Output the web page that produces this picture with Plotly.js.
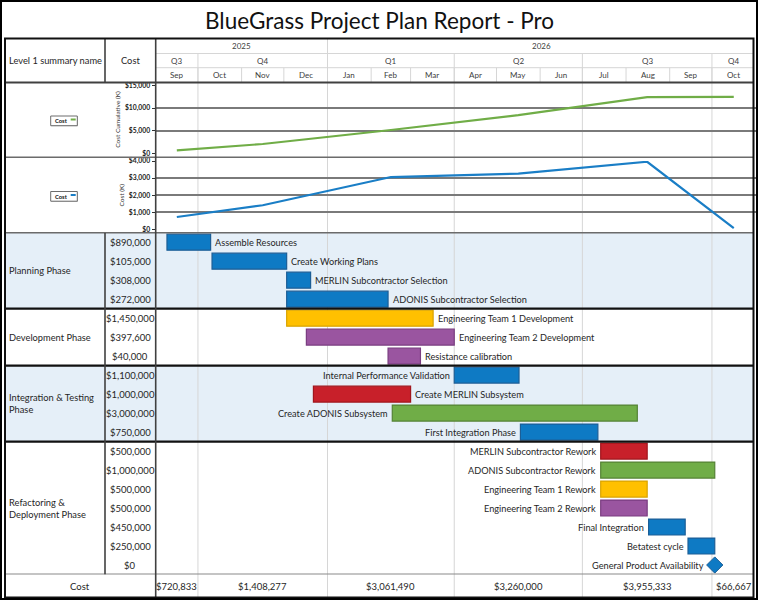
<!DOCTYPE html>
<html>
<head>
<meta charset="utf-8">
<script src="https://cdn.plot.ly/plotly-3.0.1.min.js"></script>
<style>html,body{margin:0;padding:0;background:#fff}</style>
</head>
<body>
<div id="chart" style="width:758px;height:600px"></div>
<script>
// ---------- project data ----------
const reportTitle = 'BlueGrass Project Plan Report - Pro';

const phaseNames = ['Planning Phase', 'Development Phase', 'Integration & Testing<br>Phase', 'Refactoring &<br>Deployment Phase'];
const phaseTaskCounts = [4, 3, 4, 7];

const taskNames = [
  'Assemble Resources', 'Create Working Plans', 'MERLIN Subcontractor Selection', 'ADONIS Subcontractor Selection',
  'Engineering Team 1 Development', 'Engineering Team 2 Development', 'Resistance calibration',
  'Internal Performance Validation', 'Create MERLIN Subsystem', 'Create ADONIS Subsystem', 'First Integration Phase',
  'MERLIN Subcontractor Rework', 'ADONIS Subcontractor Rework', 'Engineering Team 1 Rework', 'Engineering Team 2 Rework',
  'Final Integration', 'Betatest cycle', 'General Product Availability'
];
const taskCosts = [890000, 105000, 308000, 272000, 1450000, 397600, 40000, 1100000, 1000000, 3000000, 750000,
  500000, 1000000, 500000, 500000, 450000, 250000, 0];
const taskStart = ['2025-09-09', '2025-10-11', '2025-12-03', '2025-12-03', '2025-12-03', '2025-12-17', '2026-02-13',
  '2026-04-01', '2025-12-22', '2026-02-16', '2026-05-18', '2026-07-14', '2026-07-14', '2026-07-14', '2026-07-14',
  '2026-08-17', '2026-09-14', '2026-10-03'];
const taskFinish = ['2025-10-10', '2025-12-03', '2025-12-20', '2026-02-13', '2026-03-17', '2026-04-01', '2026-03-08',
  '2026-05-17', '2026-03-01', '2026-08-09', '2026-07-12', '2026-08-16', '2026-10-03', '2026-08-16', '2026-08-16',
  '2026-09-12', '2026-10-03', '2026-10-03'];
const taskTeam = ['Core', 'Core', 'Core', 'Core', 'Team 1', 'Team 2', 'Team 2', 'Core', 'MERLIN', 'ADONIS', 'Core',
  'MERLIN', 'ADONIS', 'Team 1', 'Team 2', 'Core', 'Core', 'Core'];

// timescale
const yearLabels = ['2025', '2026'];
const yearBounds = ['2025-09-01', '2026-01-01', '2026-11-01'];
const quarterLabels = ['Q3', 'Q4', 'Q1', 'Q2', 'Q3', 'Q4'];
const quarterBounds = ['2025-09-01', '2025-10-01', '2026-01-01', '2026-04-01', '2026-07-01', '2026-10-01', '2026-11-01'];
const monthLabels = ['Sep', 'Oct', 'Nov', 'Dec', 'Jan', 'Feb', 'Mar', 'Apr', 'May', 'Jun', 'Jul', 'Aug', 'Sep', 'Oct'];
const monthBounds = ['2025-09-01', '2025-10-01', '2025-11-01', '2025-12-01', '2026-01-01', '2026-02-01', '2026-03-01',
  '2026-04-01', '2026-05-01', '2026-06-01', '2026-07-01', '2026-08-01', '2026-09-01', '2026-10-01', '2026-11-01'];

// cost per quarter (USD)
const quarterCost = [720833, 1408277, 3061490, 3260000, 3955333, 66667];

// ---------- styling ----------
const W = 758, H = 600;
const px = v => v / W;
const py = v => 1 - v / H;
const FONT = 'Lato, "Open Sans", "Liberation Sans", sans-serif';
const TEXT = '#262626';
const teamFill = {'Core': '#0E7AC4', 'Team 1': '#FFC000', 'Team 2': '#9A55A0', 'MERLIN': '#C8202A', 'ADONIS': '#70AD47'};
const teamEdge = {'Core': '#1C5E96', 'Team 1': '#D9A300', 'Team 2': '#7A3D80', 'MERLIN': '#A0161D', 'ADONIS': '#548235'};
const labelOnLeft = [false, false, false, false, false, false, false, true, false, true, true, true, true, true, true, true, true, true];

// table frame (pixels)
const TL = 5, TR = 753.5, TT = 38.5, TB = 597.5, C1 = 105, C2 = 155.7;

// ---------- helpers ----------
const ms = s => { const [y, m, d] = s.split('-').map(Number); return Date.UTC(y, m - 1, d); };
const fmtDate = t => { const d = new Date(t); const p = n => String(n).padStart(2, '0');
  return d.getUTCFullYear() + '-' + p(d.getUTCMonth() + 1) + '-' + p(d.getUTCDate()) + ' ' + p(d.getUTCHours()) + ':' + p(d.getUTCMinutes()); };
const mid = (a, b) => fmtDate((ms(a) + ms(b)) / 2);
const money = v => '$' + Math.round(v).toLocaleString('en-US');

const quarterMid = quarterLabels.map((_, i) => mid(quarterBounds[i], quarterBounds[i + 1]));
const monthMid = monthLabels.map((_, i) => mid(monthBounds[i], monthBounds[i + 1]));
const yearMid = yearLabels.map((_, i) => mid(yearBounds[i], yearBounds[i + 1]));

let running = 0;
const cumulativeK = quarterCost.map(v => (running += v) / 1000);
const quarterK = quarterCost.map(v => v / 1000);

const rows = taskNames.map((_, i) => i);
const isMilestone = taskStart.map((s, i) => s === taskFinish[i]);
const barIdx = rows.filter(i => !isMilestone[i]);
const mileIdx = rows.filter(i => isMilestone[i]);

// ---------- traces ----------
const traces = [
  {
    type: 'scatter', mode: 'lines', x: quarterMid, y: cumulativeK, xaxis: 'x', yaxis: 'y',
    line: {color: '#70AD47', width: 2.2}, name: 'Cost', showlegend: false
  },
  {
    type: 'scatter', mode: 'lines', x: quarterMid, y: quarterK, xaxis: 'x', yaxis: 'y2',
    line: {color: '#1A7EC6', width: 2.2}, name: 'Cost', showlegend: false
  },
  {
    type: 'bar', orientation: 'h', xaxis: 'x', yaxis: 'y3',
    y: barIdx,
    base: barIdx.map(i => taskStart[i]),
    x: barIdx.map(i => ms(taskFinish[i]) - ms(taskStart[i])),
    width: 0.84,
    marker: {
      color: barIdx.map(i => teamFill[taskTeam[i]]),
      line: {color: barIdx.map(i => teamEdge[taskTeam[i]]), width: 1.2}
    },
    showlegend: false
  },
  {
    type: 'scatter', mode: 'markers', xaxis: 'x', yaxis: 'y3',
    x: mileIdx.map(i => taskStart[i]), y: mileIdx,
    marker: {symbol: 'diamond', size: 12.5, color: '#0E7AC4', line: {color: '#1C5E96', width: 1}},
    showlegend: false, cliponaxis: false
  }
];

// ---------- shapes ----------
const shapes = [];
const pline = (x0, y0, x1, y1, color, width, layer) => shapes.push({
  type: 'line', xref: 'paper', yref: 'paper', x0: px(x0), x1: px(x1), y0: py(y0), y1: py(y1),
  line: {color, width}, layer: layer || 'above'
});
const dateVLine = (d, y0, y1, color, width) => shapes.push({
  type: 'line', xref: 'x', yref: 'paper', x0: d, x1: d, y0: py(y0), y1: py(y1),
  line: {color, width}, layer: 'below'
});

// phase bands
let r0 = 0;
const phaseFirst = [];
phaseTaskCounts.forEach((n, k) => {
  phaseFirst.push(r0);
  if (k % 2 === 0) {
    shapes.push({type: 'rect', xref: 'paper', yref: 'y3', x0: px(TL), x1: px(TR), y0: r0 - 0.5, y1: r0 + n - 0.5,
      fillcolor: '#E5EFF8', line: {width: 0}, layer: 'below'});
  }
  r0 += n;
});

// timescale grid
const GRID = '#D6D6D6';
monthBounds.slice(1, -1).forEach(d => dateVLine(d, 67.7, 82.5, GRID, 1));
quarterBounds.slice(1, -1).forEach(d => dateVLine(d, 53.5, TB, GRID, 1));
yearBounds.slice(1, -1).forEach(d => dateVLine(d, TT, 53.5, GRID, 1));
pline(C2, 53.5, TR, 53.5, GRID, 1);
pline(C2, 67.7, TR, 67.7, GRID, 1);

// table rules
pline(TL, 82.5, TR, 82.5, '#404040', 1.8);
pline(TL, 157.3, TR, 157.3, '#6b6b6b', 1.6);
pline(TL, 232.7, TR, 232.7, '#6b6b6b', 1.6);
let acc = 0;
phaseTaskCounts.slice(0, -1).forEach(n => {
  acc += n;
  shapes.push({type: 'line', xref: 'paper', yref: 'y3', x0: px(TL), x1: px(TR), y0: acc - 0.5, y1: acc - 0.5,
    line: {color: '#111', width: 2.2}});
});
shapes.push({type: 'line', xref: 'paper', yref: 'y3', x0: px(TL), x1: px(TR), y0: taskNames.length - 0.5,
  y1: taskNames.length - 0.5, line: {color: '#8a8a8a', width: 2}});
pline(C1, TT, C1, 82.5, '#404040', 1.6);
shapes.push({type: 'line', xref: 'paper', yref: 'y3', x0: px(C1), x1: px(C1), y0: -0.5, y1: taskNames.length - 0.5,
  line: {color: '#404040', width: 1.6}});
pline(C2, TT, C2, TB, '#404040', 1.6);

// legend keys in the chart panels
const legendKey = (top, color) => {
  shapes.push({type: 'rect', xref: 'paper', yref: 'paper', x0: px(51.2), x1: px(77.8), y0: py(top + 10.2), y1: py(top + 0.5),
    fillcolor: '#b0b0b0', line: {width: 0}});
  shapes.push({type: 'rect', xref: 'paper', yref: 'paper', x0: px(50.7), x1: px(77.3), y0: py(top + 9.7), y1: py(top),
    fillcolor: '#fff', line: {color: '#6d6d6d', width: 1}});
  pline(70.7, top + 3.5, 75.7, top + 3.5, color, 2);
};
legendKey(116, '#70AD47');
legendKey(191.5, '#1A7EC6');

// outer frames
shapes.push({type: 'rect', xref: 'paper', yref: 'paper', x0: px(TL), x1: px(TR), y0: py(TB), y1: py(TT),
  line: {color: '#111', width: 2}});
shapes.push({type: 'rect', xref: 'paper', yref: 'paper', x0: px(1), x1: px(757), y0: py(599), y1: py(1),
  line: {color: '#000', width: 2}});

// ---------- annotations ----------
const annotations = [];
const note = (text, x, y, o) => annotations.push(Object.assign({
  text, x, y, xref: 'paper', yref: 'paper', showarrow: false, xanchor: 'center', yanchor: 'middle',
  font: {family: FONT, size: 9.5, color: TEXT}
}, o || {}));

note(reportTitle, 0.5, py(20.5), {font: {family: FONT, size: 22.5, color: '#111'}});
note('Level 1 summary name', px(55), py(60.5), {font: {family: FONT, size: 9.3, color: TEXT}});
note('Cost', px(130), py(60.5), {font: {family: FONT, size: 9.3, color: TEXT}});
yearLabels.forEach((t, i) => note(t, yearMid[i], py(46), {xref: 'x', font: {family: FONT, size: 8, color: '#404040'}}));
quarterLabels.forEach((t, i) => note(t, quarterMid[i], py(60.5), {xref: 'x', font: {family: FONT, size: 8, color: '#404040'}}));
monthLabels.forEach((t, i) => note(t, monthMid[i], py(75), {xref: 'x', font: {family: FONT, size: 8, color: '#404040'}}));

// legend key captions
note('<b>Cost</b>', px(52.5), py(120.5), {xanchor: 'left', font: {family: FONT, size: 5.8, color: '#111'}});
note('<b>Cost</b>', px(52.5), py(196), {xanchor: 'left', font: {family: FONT, size: 5.8, color: '#111'}});

// phase names and task costs
phaseNames.forEach((t, k) => note(t, px(7), phaseFirst[k] + (phaseTaskCounts[k] - 1) / 2,
  {yref: 'y3', xanchor: 'left', align: 'left', font: {family: FONT, size: 9.3, color: TEXT}}));
taskCosts.forEach((v, i) => note(money(v), px(130), i, {yref: 'y3', font: {family: FONT, size: 9.5, color: TEXT}}));

// task labels beside the bars
taskNames.forEach((t, i) => {
  const left = labelOnLeft[i];
  const shift = isMilestone[i] ? 9 : 2.5;
  note(t, left ? taskStart[i] : taskFinish[i], i, {
    xref: 'x', yref: 'y3', xanchor: left ? 'right' : 'left', xshift: left ? -shift : shift,
    font: {family: FONT, size: 9.2, color: TEXT}
  });
});

// footer totals
note('Cost', px(80), py(586.5), {font: {family: FONT, size: 9.5, color: TEXT}});
quarterCost.forEach((v, i) => note(money(v), quarterMid[i], py(586.5), {xref: 'x', font: {family: FONT, size: 9.5, color: TEXT}}));

// ---------- axes ----------
const valueAxis = (top, bottom, max, step, title) => {
  const vals = Array.from({length: max / step + 1}, (_, k) => k * step);
  return {
    domain: [py(bottom), py(top)], range: [0, max], anchor: 'x',
    tickmode: 'array', tickvals: vals, ticktext: vals.map(money),
    tickfont: {family: FONT, size: 6.8, color: '#222', weight: 'bold'},
    ticks: 'outside', ticklen: 3, tickcolor: '#333', tickwidth: 1,
    showline: true, linecolor: '#333', linewidth: 1.2,
    showgrid: true, gridcolor: '#7a7a7a', gridwidth: 1.6, zeroline: false,
    title: {text: title, font: {family: FONT, size: 6.5, color: '#333'}, standoff: 3},
    fixedrange: true
  };
};

const layout = {
  width: W, height: H,
  margin: {l: 0, r: 0, t: 0, b: 0},
  paper_bgcolor: '#fff', plot_bgcolor: 'rgba(0,0,0,0)',
  showlegend: false,
  font: {family: FONT, color: TEXT},
  xaxis: {
    type: 'date', domain: [px(C2), px(755.6)], range: [quarterBounds[0], quarterBounds[quarterBounds.length - 1]],
    anchor: 'y3', showticklabels: false, showgrid: false, zeroline: false, showline: false, ticks: '', fixedrange: true
  },
  yaxis: valueAxis(85.3, 153.7, 15000, 5000, 'Cost Cumulative (K)'),
  yaxis2: valueAxis(161, 229.3, 4000, 1000, 'Cost (K)'),
  yaxis3: {
    domain: [py(574.5), py(232.7)], range: [taskNames.length - 0.5, -0.5], anchor: 'x',
    showticklabels: false, showgrid: false, zeroline: false, showline: false, ticks: '', fixedrange: true
  },
  bargap: 0,
  shapes, annotations
};

Plotly.newPlot('chart', traces, layout, {staticPlot: true, displayModeBar: false});
</script>
</body>
</html>
